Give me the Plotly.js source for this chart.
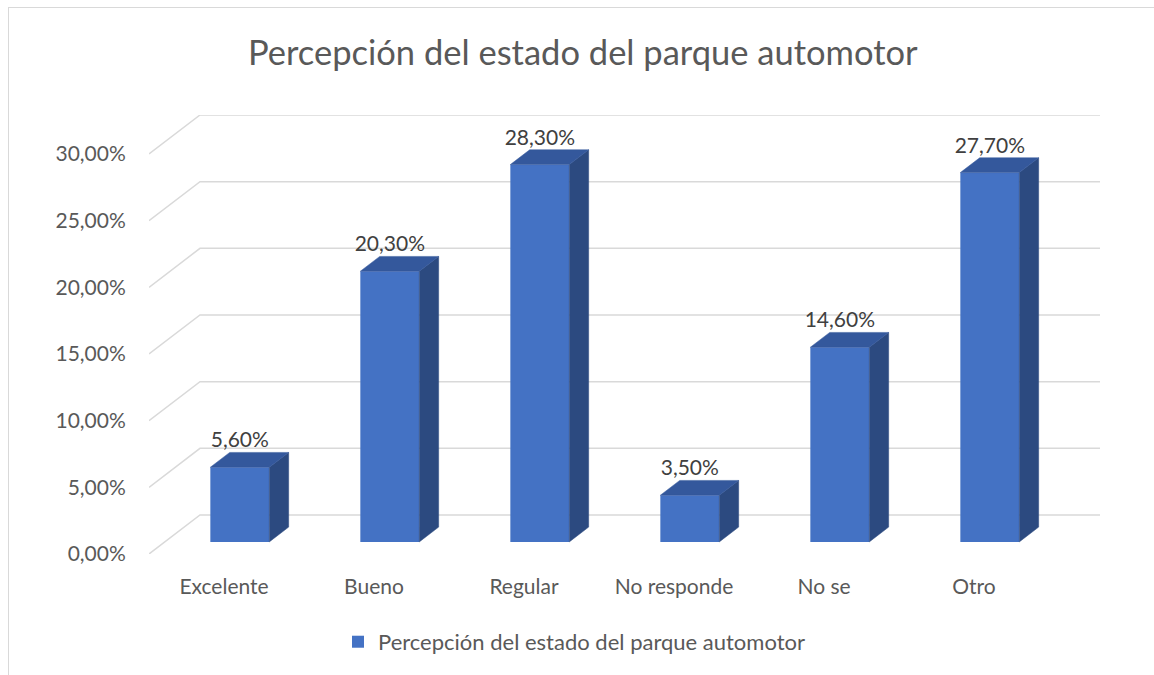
<!DOCTYPE html>
<html>
<head>
<meta charset="utf-8">
<script src="https://cdn.plot.ly/plotly-3.0.1.min.js"></script>
<style>
  html, body { margin: 0; padding: 0; background: #ffffff; }
  #wrap { position: relative; width: 1154px; height: 675px; overflow: hidden; }
  #chart { width: 1154px; height: 675px; }
  #frame { position: absolute; left: 8px; top: 7px; width: 1200px; height: 700px;
           border-left: 1px solid #d9d9d9; border-top: 1px solid #d9d9d9; pointer-events: none; }
</style>
</head>
<body>
<div id="wrap"><div id="chart"></div><div id="frame"></div></div>
<script>
// ---- data ----
const categories = ["Excelente", "Bueno", "Regular", "No responde", "No se", "Otro"];
const values = [5.6, 20.3, 28.3, 3.5, 14.6, 27.7];          // percent
const valueLabels = ["5,60%", "20,30%", "28,30%", "3,50%", "14,60%", "27,70%"];
const yTickValues = [0, 5, 10, 15, 20, 25, 30];
const yTickLabels = ["0,00%", "5,00%", "10,00%", "15,00%", "20,00%", "25,00%", "30,00%"];
const seriesName = "Percepción del estado del parque automotor";
const chartTitle = "Percepción del estado del parque automotor";

// ---- 3D look (style) ----
const DX = 0.34;     // full floor depth, x units
const DY = 2.925;    // full floor depth, y units
const F0 = 0.31, F1 = 0.69;  // bar depth span within floor
const BAR_W = 0.393;
const colFront = "#4472c4", colSide = "#2c4a80", colTop = "#34589c";
const FONT = "Lato, 'Open Sans', sans-serif";
const idx = categories.map((c, i) => i);
const offX = F0 * DX, base = F0 * DY;
const ddx = (F1 - F0) * DX, ddy = (F1 - F0) * DY;
const xMin = -0.5, xMax = categories.length - 0.5 + DX;

const traces = [];
traces.push({
  type: "bar", x: idx.map(i => i + offX), y: values, base: values.map(() => base),
  width: BAR_W, name: seriesName, marker: { color: colFront, line: { width: 0 } },
  showlegend: true, hoverinfo: "skip"
});
idx.forEach(i => {
  const v = values[i];
  const xl = i + offX - BAR_W / 2, xr = i + offX + BAR_W / 2;
  traces.push({
    type: "scatter", mode: "lines", fill: "toself", fillcolor: colSide,
    line: { color: colSide, width: 0.5 }, showlegend: false, hoverinfo: "skip",
    x: [xr, xr, xr + ddx, xr + ddx, xr],
    y: [base, base + v, base + v + ddy, base + ddy, base]
  });
  traces.push({
    type: "scatter", mode: "lines", fill: "toself", fillcolor: colTop,
    line: { color: colTop, width: 0.5 }, showlegend: false, hoverinfo: "skip",
    x: [xl, xr, xr + ddx, xl + ddx, xl],
    y: [base + v, base + v, base + v + ddy, base + v + ddy, base + v]
  });
});
traces.push({
  type: "scatter", mode: "text", x: idx.map(i => i + offX),
  y: values.map(v => v + F1 * DY), text: valueLabels, textposition: "top center",
  textfont: { family: FONT, size: 21, color: "#404040" },
  showlegend: false, hoverinfo: "skip", cliponaxis: false
});

const shapes = yTickValues.map(v => ({
  type: "path", xref: "x", yref: "y", layer: "below",
  path: `M ${xMin},${v} L ${xMin + DX},${v + DY} L ${xMax},${v + DY}`,
  line: { color: "#d9d9d9", width: 1.5 }
}));

const layout = {
  width: 1154, height: 675,
  paper_bgcolor: "#ffffff", plot_bgcolor: "rgba(0,0,0,0)",
  margin: { l: 149, r: 54, t: 115, b: 121 },
  title: {
    text: chartTitle, xref: "container", yref: "container",
    x: 0.505, xanchor: "center", y: 0.921, yanchor: "middle",
    font: { family: FONT, size: 34.5, color: "#595959" }
  },
  xaxis: {
    range: [xMin, xMax], tickvals: idx, ticktext: categories,
    showgrid: false, zeroline: false, showline: false,
    ticks: "outside", ticklen: 14, tickcolor: "rgba(0,0,0,0)",
    tickfont: { family: FONT, size: 21, color: "#595959" },
    fixedrange: true
  },
  yaxis: {
    range: [0, 439 / (400 / 30)], tickvals: yTickValues, ticktext: yTickLabels,
    showgrid: false, zeroline: false, showline: false,
    ticks: "outside", ticklen: 18, tickcolor: "rgba(0,0,0,0)",
    tickfont: { family: FONT, size: 21, color: "#595959" },
    fixedrange: true
  },
  shapes: shapes,
  showlegend: true,
  legend: {
    orientation: "h", xref: "container", yref: "container",
    x: 338 / 1154, xanchor: "left", y: 0.049, yanchor: "middle",
    font: { family: FONT, size: 22, color: "#595959" },
    itemwidth: 30
  },
  hovermode: false
};

Plotly.newPlot("chart", traces, layout, { displayModeBar: false, staticPlot: true });
</script>
</body>
</html>
